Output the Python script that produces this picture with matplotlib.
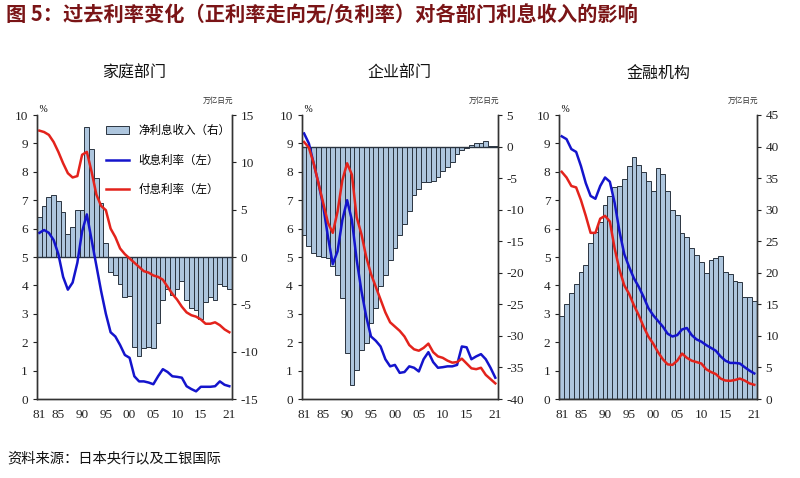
import matplotlib
matplotlib.use('Agg')
import matplotlib.pyplot as plt
from matplotlib.patches import Patch
from matplotlib.lines import Line2D

plt.rcParams['axes.unicode_minus'] = False

CJK = ['Noto Sans CJK SC', 'DejaVu Sans']
SERIF = 'Liberation Serif'

years = list(range(1981, 2022))
year_ticks = [1981, 1985, 1990, 1995, 2000, 2005, 2010, 2015, 2021]
year_labels = ['81', '85', '90', '95', '00', '05', '10', '15', '21']

# 家庭部门 (net interest income: 万亿日元, rates: %)
hh_net = [4.2, 5.4, 6.3, 6.6, 5.9, 4.8, 2.4, 3.2, 5.0, 5.0,
          13.7, 11.4, 8.3, 5.7, 1.5, -1.6, -1.9, -2.8, -4.2, -4.1,
          -9.5, -10.5, -9.6, -9.5, -9.6, -7.0, -4.5, -3.4, -4.0, -3.4,
          -2.5, -4.5, -5.4, -5.6, -6.5, -4.8, -4.2, -4.5, -2.8, -3.1,
          -3.4]
hh_recv = [5.85, 5.95, 5.85, 5.6, 5.1, 4.3, 3.85, 4.1, 4.8, 5.9,
           6.5, 5.6, 4.7, 3.8, 3.0, 2.35, 2.2, 1.9, 1.55, 1.45,
           0.8, 0.62, 0.62, 0.58, 0.52, 0.8, 1.05, 0.95, 0.8, 0.78,
           0.75, 0.45, 0.35, 0.27, 0.43, 0.43, 0.43, 0.45, 0.62, 0.5,
           0.45]
hh_pay = [9.45, 9.4, 9.3, 9.05, 8.7, 8.3, 7.95, 7.8, 7.85, 8.6,
          8.7, 8.0, 7.2, 6.8, 6.65, 6.0, 5.7, 5.3, 5.1, 4.95,
          4.8, 4.65, 4.5, 4.45, 4.35, 4.3, 4.2, 3.95, 3.7, 3.5,
          3.25, 3.05, 2.95, 2.9, 2.8, 2.65, 2.65, 2.7, 2.6, 2.45,
          2.35]

# 企业部门
co_net = [-14.0, -15.8, -16.8, -17.4, -17.5, -17.6, -19.0, -20.4, -24.0, -32.7,
          -37.8, -35.4, -32.2, -31.1, -28.0, -25.6, -22.1, -20.4, -17.9, -16.0,
          -14.0, -12.3, -10.2, -7.7, -6.7, -5.6, -5.6, -5.4, -4.75, -3.85,
          -3.3, -2.4, -1.2, -0.5, -0.3, 0.2, 0.5, 0.6, 0.85, 0.1,
          0.05]
co_recv = [9.35, 9.0, 8.3, 7.6, 6.8, 5.7, 4.75, 5.2, 6.3, 7.0,
           6.3, 4.9, 3.8, 2.9, 2.2, 2.05, 1.85, 1.4, 1.15, 1.2,
           0.92, 0.95, 1.15, 1.1, 0.97, 1.4, 1.65, 1.3, 1.1, 1.12,
           1.15, 1.15, 1.2, 1.85, 1.82, 1.4, 1.5, 1.58, 1.4, 1.1,
           0.75]
co_pay = [9.05, 8.85, 8.3, 7.6, 6.9, 6.2, 5.85, 6.6, 7.7, 8.3,
          7.9, 6.4, 5.8, 5.0, 4.4, 3.95, 3.5, 3.05, 2.7, 2.55,
          2.4, 2.2, 1.9, 1.75, 1.7, 1.8, 1.95, 1.65, 1.5, 1.45,
          1.35, 1.28, 1.3, 1.42, 1.25, 1.08, 1.05, 1.1, 0.85, 0.7,
          0.55]

# 金融机构
fi_net = [13.1, 15.0, 16.8, 18.3, 20.1, 21.2, 24.7, 26.4, 28.1, 30.7,
          32.2, 33.6, 33.8, 34.9, 36.9, 38.3, 37.1, 36.0, 34.5, 33.0,
          36.6, 35.7, 33.0, 29.9, 29.1, 26.3, 25.6, 24.0, 22.8, 21.7,
          20.0, 22.0, 22.3, 22.7, 20.2, 19.8, 18.7, 18.6, 16.2, 16.1,
          15.6]
fi_recv = [9.25, 9.15, 8.8, 8.7, 8.2, 7.6, 7.15, 7.05, 7.5, 7.8,
           7.65, 6.9, 5.9, 5.1, 4.65, 4.25, 3.95, 3.6, 3.2, 2.95,
           2.75, 2.55, 2.3, 2.2, 2.25, 2.45, 2.5, 2.25, 2.1, 2.02,
           1.9, 1.8, 1.7, 1.5, 1.35, 1.27, 1.27, 1.25, 1.12, 1.0,
           0.9]
fi_pay = [8.0, 7.8, 7.5, 7.45, 7.0, 6.45, 5.85, 5.85, 6.35, 6.45,
          6.25, 5.3, 4.55, 4.0, 3.7, 3.3, 2.95, 2.55, 2.2, 1.95,
          1.65, 1.4, 1.22, 1.2, 1.35, 1.6, 1.45, 1.35, 1.3, 1.25,
          1.05, 0.95, 0.88, 0.72, 0.65, 0.64, 0.67, 0.72, 0.65, 0.55,
          0.5]

BAR_COLOR = '#aec6de'
BAR_EDGE = '#2a3440'
BLUE = '#1414cc'
RED = '#e3231c'
W, H = 800, 478


def dibuja_panel(fig, x0, x1, titulo, net, recv, pay, rlim, rticks, leyenda=False):
    top, bottom = 115, 399
    rect = [x0 / W, 1 - bottom / H, (x1 - x0) / W, (bottom - top) / H]
    ax = fig.add_axes(rect)
    ax2 = ax.twinx()
    ax2.bar(years, net, width=1.0, color=BAR_COLOR, edgecolor=BAR_EDGE, linewidth=0.7)
    ax2.axhline(0, color=BAR_EDGE, linewidth=1.0)
    ax2.set_ylim(rlim)
    ax2.set_yticks(rticks)
    ax.plot(years, recv, color=BLUE, linewidth=1.8, solid_joinstyle='round')
    ax.plot(years, pay, color=RED, linewidth=1.8, solid_joinstyle='round')
    ax.set_zorder(ax2.get_zorder() + 1)
    ax.patch.set_visible(False)
    ax.set_ylim(0, 10)
    ax.set_yticks(range(0, 11))
    ax.set_xlim(1980.5, 2021.5)
    ax.set_xticks(year_ticks)
    ax.set_xticklabels(year_labels)
    for a in (ax, ax2):
        a.spines['top'].set_visible(False)
        for s in a.spines.values():
            s.set_color('#333333')
            s.set_linewidth(1.0)
        a.tick_params(axis='y', direction='out', length=3, width=0.8, colors='#222222',
                      labelsize=9.5)
        a.tick_params(axis='x', length=0, pad=7, labelsize=9.5, colors='#222222')
        for lab in a.get_xticklabels() + a.get_yticklabels():
            lab.set_family(SERIF)
    ax.text(0.0, 1.005, ' %', transform=ax.transAxes, fontsize=7, family=SERIF,
            ha='left', va='bottom')
    ax.text(1.01, 1.035, '万亿日元', transform=ax.transAxes, fontsize=5.5, family=CJK,
            ha='right', va='bottom', color='#333333')
    fig.text((x0 + x1) / 2 / W, 1 - 73 / H, titulo, fontsize=11.5, family=CJK,
             ha='center', va='center', color='#111111')
    if leyenda:
        handles = [Patch(facecolor=BAR_COLOR, edgecolor=BAR_EDGE, linewidth=0.7),
                   Line2D([], [], color=BLUE, linewidth=1.8),
                   Line2D([], [], color=RED, linewidth=1.8)]
        labels = ['净利息收入（右）', '收息利率（左）', '付息利率（左）']
        ax.legend(handles, labels, loc='upper left', bbox_to_anchor=(0.33, 0.985),
                  frameon=False, prop={'family': CJK, 'size': 8.3},
                  handlelength=2.0, handletextpad=0.8, labelspacing=1.45,
                  borderaxespad=0)
    return ax, ax2


fig = plt.figure(figsize=(W / 100, H / 100), dpi=100)
fig.text(6 / W, 1 - 15 / H, '图 5：过去利率变化（正利率走向无/负利率）对各部门利息收入的影响',
         fontsize=14.6, family=CJK, weight='bold', color='#7a1416', ha='left', va='center')

dibuja_panel(fig, 37, 231.7, '家庭部门', hh_net, hh_recv, hh_pay,
             (-15, 15), range(-15, 16, 5), leyenda=True)
dibuja_panel(fig, 301.7, 497.7, '企业部门', co_net, co_recv, co_pay,
             (-40, 5), range(-40, 6, 5))
dibuja_panel(fig, 559.3, 756.7, '金融机构', fi_net, fi_recv, fi_pay,
             (0, 45), range(0, 46, 5))

fig.text(7 / W, 1 - 458 / H, '资料来源：日本央行以及工银国际', fontsize=10.3, family=CJK,
         ha='left', va='center', color='#111111')

fig.savefig('out.png', dpi=100)
